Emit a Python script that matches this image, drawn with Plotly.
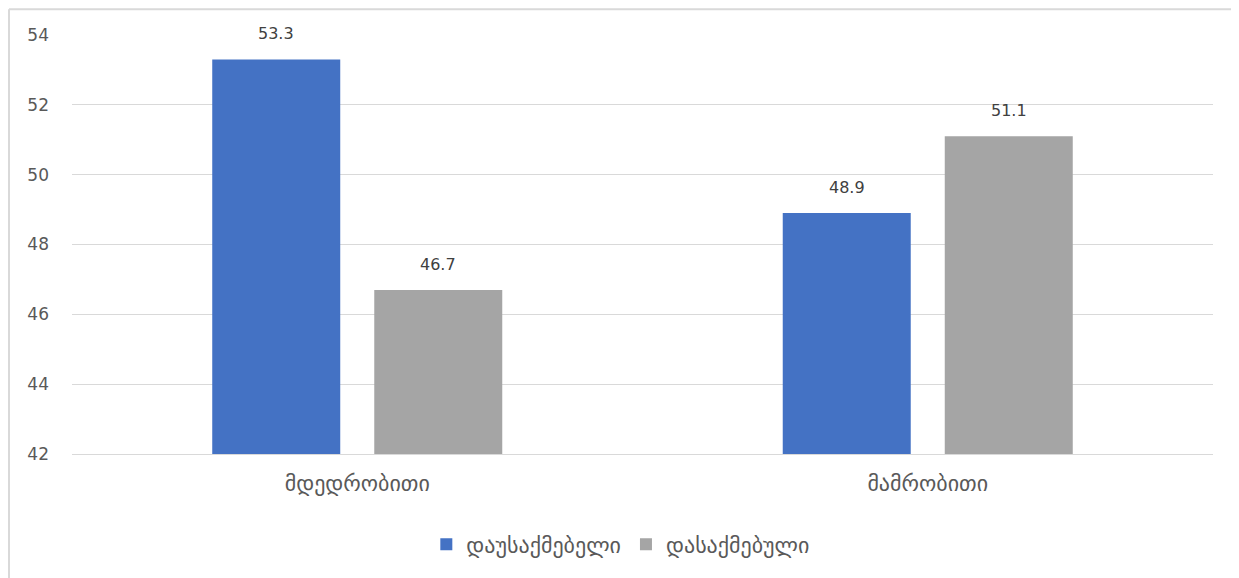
import plotly.graph_objects as go

categories = ["მდედრობითი", "მამრობითი"]
series_names = ["დაუსაქმებელი", "დასაქმებული"]
unemployed = [53.3, 48.9]
employed = [46.7, 51.1]
y_ticks = [42, 44, 46, 48, 50, 52, 54]

FONT = "DejaVu Sans, Open Sans, sans-serif"
TXT = "#595959"
LBL = "#404040"

fig = go.Figure()
fig.add_trace(go.Bar(x=categories, y=unemployed, name=series_names[0],
                     marker=dict(color="#4472C4", line=dict(width=0))))
fig.add_trace(go.Bar(x=categories, y=employed, name=series_names[1],
                     marker=dict(color="#A5A5A5", line=dict(width=0))))

annotations = []
for cat, v in zip(categories, unemployed):
    annotations.append(dict(x=cat, y=v, xref="x", yref="y", text=f"{v:.1f}", showarrow=False,
                            xshift=-81, yshift=14, yanchor="bottom",
                            font=dict(size=16, color=LBL, family=FONT)))
for cat, v in zip(categories, employed):
    annotations.append(dict(x=cat, y=v, xref="x", yref="y", text=f"{v:.1f}", showarrow=False,
                            xshift=81, yshift=14, yanchor="bottom",
                            font=dict(size=16, color=LBL, family=FONT)))

fig.update_layout(
    width=1231, height=570,
    margin=dict(l=64, r=26, t=27, b=121),
    paper_bgcolor="white", plot_bgcolor="white",
    font=dict(family=FONT, size=16, color=TXT),
    barmode="group", bargap=0.432, bargroupgap=0.21,
    showlegend=True,
    legend=dict(orientation="h", x=0.481, xanchor="center", y=-0.216, yanchor="middle",
                font=dict(size=22, color=TXT), itemwidth=30, traceorder="normal"),
    xaxis=dict(showline=True, linecolor="#D9D9D9", linewidth=1, ticks="",
               ticklabelstandoff=10, tickfont=dict(size=22, color=TXT)),
    yaxis=dict(range=[42, 54], tickvals=y_ticks, showgrid=True, gridcolor="#D9D9D9",
               zeroline=False, showline=False, ticks="", ticklen=0,
               ticklabelstandoff=22, tickfont=dict(size=17, color=TXT)),
    annotations=annotations,
    shapes=[
        dict(type="line", xref="paper", yref="paper", x0=-63 / 1141, x1=1.1, y0=1 + 26 / 422,
             y1=1 + 26 / 422, line=dict(color="#D9D9D9", width=2)),
        dict(type="line", xref="paper", yref="paper", x0=-63 / 1141, x1=-63 / 1141,
             y0=1 + 26 / 422, y1=-0.3, line=dict(color="#D9D9D9", width=2)),
    ],
)
fig.write_html("out.html")
